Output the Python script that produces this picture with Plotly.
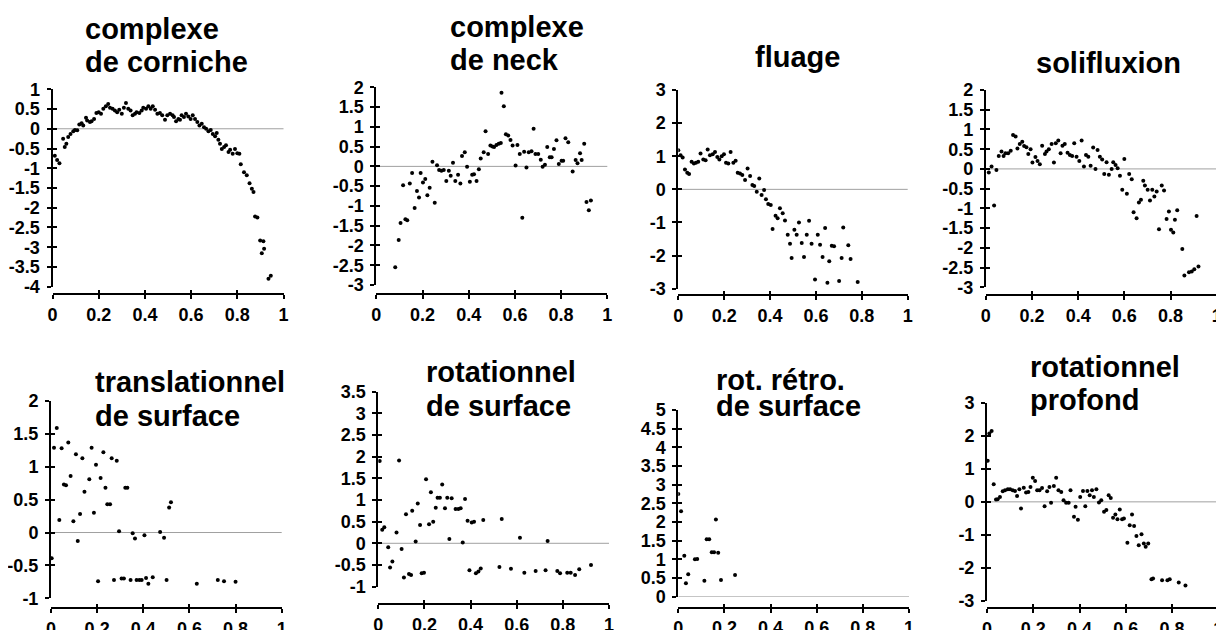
import plotly.graph_objects as go

# --- données ---
x_corniche = [0.01, 0.02, 0.03, 0.046, 0.053, 0.06, 0.068, 0.078, 0.09, 0.097, 0.107, 0.116, 0.126, 0.133,
              0.145, 0.15, 0.162, 0.169, 0.18, 0.19, 0.2, 0.21, 0.22, 0.231, 0.241, 0.249, 0.26, 0.27, 0.28,
              0.289, 0.3, 0.309, 0.318, 0.328, 0.338, 0.347, 0.357, 0.364, 0.376, 0.386, 0.393, 0.405, 0.415,
              0.425, 0.434, 0.444, 0.454, 0.465, 0.475, 0.487, 0.497, 0.509, 0.52, 0.526, 0.535, 0.545, 0.552,
              0.559, 0.569, 0.578, 0.588, 0.598, 0.607, 0.617, 0.627, 0.636, 0.646, 0.656, 0.665, 0.675, 0.685,
              0.694, 0.704, 0.711, 0.718, 0.725, 0.733, 0.743, 0.751, 0.762, 0.769, 0.78, 0.79, 0.8, 0.809,
              0.815, 0.829, 0.841, 0.853, 0.863, 0.87, 0.877, 0.887, 0.899, 0.913, 0.906, 0.916, 0.935, 0.945]
y_corniche = [-0.68, -0.79, -0.87, -0.25, -0.46, -0.38, -0.21, -0.13, -0.06, -0.03, -0.04, 0.11, 0.14, 0.08,
              0.28, 0.21, 0.17, 0.19, 0.25, 0.4, 0.42, 0.38, 0.51, 0.57, 0.63, 0.53, 0.51, 0.46, 0.42,
              0.48, 0.38, 0.53, 0.65, 0.51, 0.46, 0.34, 0.38, 0.42, 0.4, 0.46, 0.53, 0.51, 0.57,
              0.51, 0.57, 0.48, 0.38, 0.4, 0.34, 0.23, 0.34, 0.38, 0.34, 0.3, 0.19, 0.25, 0.23,
              0.34, 0.3, 0.38, 0.31, 0.25, 0.34, 0.25, 0.17, 0.08, 0.13, 0.04, 0.0, -0.06, -0.03,
              -0.13, -0.19, -0.11, -0.28, -0.38, -0.51, -0.46, -0.42, -0.59, -0.53, -0.63, -0.51, -0.62, -0.63,
              -0.9, -1.1, -1.18, -1.38, -1.52, -1.6, -2.22, -2.25, -2.83, -2.85, -3.15, -3.04, -3.8, -3.72]

x_neck = [0.082, 0.097, 0.105, 0.116, 0.126, 0.134, 0.145, 0.155, 0.166, 0.176, 0.185, 0.192, 0.202, 0.212,
          0.221, 0.231, 0.243, 0.253, 0.263, 0.272, 0.282, 0.292, 0.303, 0.314, 0.322, 0.332, 0.342, 0.354,
          0.364, 0.371, 0.383, 0.393, 0.405, 0.415, 0.423, 0.434, 0.444, 0.452, 0.465, 0.473, 0.484, 0.494,
          0.503, 0.51, 0.52, 0.53, 0.539, 0.542, 0.552, 0.561, 0.571, 0.581, 0.59, 0.603, 0.611, 0.621,
          0.632, 0.64, 0.65, 0.66, 0.672, 0.681, 0.689, 0.701, 0.712, 0.72, 0.73, 0.74, 0.751, 0.759,
          0.769, 0.78, 0.79, 0.802, 0.809, 0.819, 0.831, 0.85, 0.863, 0.871, 0.882, 0.889, 0.9, 0.91,
          0.92, 0.929]
y_neck = [-2.55, -1.86, -1.43, -0.48, -1.34, -1.36, -0.43, -0.17, -1.05, -0.62, -0.79, -0.17, -0.41, -0.32,
          -0.73, -0.54, 0.12, -0.92, 0.03, -0.09, -0.11, -0.09, -0.37, -0.11, -0.24, 0.09, -0.37, -0.21,
          -0.43, 0.26, 0.36, -0.01, -0.39, -0.21, -0.2, -0.37, -0.07, 0.2, 0.36, 0.89, 0.31, 0.53,
          0.5, 0.49, 0.54, 0.57, 0.59, 1.86, 1.52, 0.81, 0.78, 0.67, 0.53, 0.02, 0.54, 0.31,
          -1.3, 0.37, -0.03, 0.36, 0.38, 0.95, 0.31, 0.31, 0.17, -0.01, 0.04, 0.49, 0.23, 0.23,
          0.44, 0.66, 0.06, 0.14, 0.14, 0.71, 0.61, -0.13, 0.16, 0.08, 0.33, 0.16, 0.57, -0.9,
          -1.11, -0.86]

x_fluage = [0.0, 0.01, 0.019, 0.029, 0.039, 0.047, 0.058, 0.068, 0.077, 0.087, 0.097, 0.109, 0.119, 0.128,
            0.138, 0.15, 0.16, 0.17, 0.179, 0.189, 0.199, 0.208, 0.218, 0.228, 0.24, 0.25, 0.259, 0.269,
            0.279, 0.291, 0.302, 0.313, 0.323, 0.331, 0.342, 0.353, 0.363, 0.374, 0.382, 0.392, 0.403, 0.411,
            0.424, 0.433, 0.443, 0.455, 0.465, 0.477, 0.487, 0.494, 0.506, 0.516, 0.526, 0.538, 0.548, 0.56,
            0.57, 0.581, 0.596, 0.608, 0.618, 0.629, 0.64, 0.65, 0.658, 0.669, 0.679, 0.701, 0.712, 0.719,
            0.741, 0.751, 0.782]
y_fluage = [1.18, 1.03, 0.96, 0.6, 0.5, 0.46, 0.83, 0.78, 0.8, 0.83, 1.08, 0.9, 0.88, 1.2,
            1.03, 1.06, 1.13, 0.98, 0.9, 1.0, 1.06, 0.8, 0.78, 1.13, 0.8, 0.86, 0.5, 0.48,
            0.43, 0.28, 0.63, 0.4, 0.13, 0.1, -0.07, 0.33, -0.17, -0.02, -0.3, -0.44, -0.47, -1.2,
            -0.8, -0.87, -0.57, -0.72, -0.94, -1.37, -1.64, -2.07, -1.22, -1.37, -1.0, -1.62, -2.04, -1.37,
            -0.95, -1.64, -2.72, -1.37, -1.67, -2.04, -1.17, -2.82, -2.17, -1.7, -1.72, -2.77, -2.07, -1.15,
            -1.69, -2.1, -2.8]

x_soli = [0.013, 0.025, 0.036, 0.046, 0.056, 0.068, 0.077, 0.085, 0.097, 0.108, 0.118, 0.129, 0.137, 0.147,
          0.158, 0.166, 0.176, 0.184, 0.194, 0.202, 0.215, 0.224, 0.234, 0.244, 0.256, 0.263, 0.273, 0.285,
          0.295, 0.303, 0.314, 0.324, 0.332, 0.342, 0.354, 0.364, 0.374, 0.383, 0.393, 0.405, 0.415, 0.425,
          0.434, 0.444, 0.454, 0.465, 0.475, 0.484, 0.494, 0.504, 0.513, 0.523, 0.533, 0.545, 0.552, 0.562,
          0.571, 0.581, 0.591, 0.6, 0.611, 0.621, 0.632, 0.64, 0.653, 0.663, 0.672, 0.682, 0.689, 0.701,
          0.711, 0.721, 0.73, 0.74, 0.75, 0.762, 0.772, 0.783, 0.793, 0.802, 0.812, 0.819, 0.829, 0.851,
          0.86, 0.88, 0.892, 0.903, 0.913, 0.921]
y_soli = [-0.09, 0.06, -0.93, -0.03, 0.33, 0.44, 0.33, 0.4, 0.4, 0.46, 0.86, 0.82, 0.52, 0.63,
          0.69, 0.58, 0.55, 0.38, 0.5, 0.16, 0.3, 0.2, 0.12, 0.59, 0.38, 0.44, 0.5, 0.63,
          0.16, 0.65, 0.72, 0.4, 0.59, 0.63, 0.41, 0.35, 0.33, 0.65, 0.31, 0.2, 0.72, 0.06,
          0.35, 0.31, 0.08, 0.54, 0.0, 0.48, 0.31, 0.24, -0.13, 0.17, -0.15, 0.0, 0.17, 0.1,
          0.02, -0.17, -0.53, 0.25, -0.63, -0.13, -0.26, -1.1, -1.25, -0.85, -0.78, -0.3, -0.42, -0.53,
          -0.8, -0.53, -0.7, -0.57, -1.53, -0.42, -0.55, -1.27, -1.08, -1.54, -1.61, -1.29, -1.05, -2.03,
          -2.7, -2.62, -2.6, -2.54, -1.19, -2.47]

x_trans = [0.003, 0.013, 0.025, 0.036, 0.046, 0.056, 0.065, 0.075, 0.085, 0.097, 0.108, 0.116, 0.126, 0.136,
           0.145, 0.166, 0.176, 0.186, 0.195, 0.204, 0.215, 0.227, 0.236, 0.244, 0.256, 0.263, 0.273, 0.285,
           0.295, 0.306, 0.316, 0.322, 0.331, 0.345, 0.354, 0.364, 0.371, 0.383, 0.393, 0.405, 0.412, 0.422,
           0.441, 0.473, 0.49, 0.501, 0.512, 0.52, 0.632, 0.723, 0.75, 0.8]
y_trans = [-0.39, 1.29, 1.59, 0.19, 1.28, 0.73, 0.72, 1.37, 0.86, 0.17, 1.19, -0.13, 0.28, 1.13,
           0.62, 0.81, 1.29, 0.3, 1.03, -0.74, 0.83, 1.22, 0.68, 0.43, 0.43, 1.13, -0.72, 1.09,
           0.02, -0.7, -0.7, 0.68, 0.68, -0.72, -0.01, -0.09, -0.72, -0.72, -0.72, -0.04, -0.69, -0.78,
           -0.68, 0.01, -0.08, -0.72, 0.38, 0.46, -0.78, -0.72, -0.74, -0.75]

x_rot = [0.006, 0.017, 0.026, 0.043, 0.051, 0.061, 0.079, 0.09, 0.101, 0.111, 0.12, 0.133, 0.142, 0.147,
         0.162, 0.171, 0.181, 0.188, 0.198, 0.207, 0.22, 0.228, 0.238, 0.249, 0.257, 0.267, 0.277, 0.289,
         0.299, 0.308, 0.318, 0.335, 0.347, 0.357, 0.366, 0.376, 0.387, 0.395, 0.405, 0.415, 0.423, 0.434,
         0.444, 0.455, 0.525, 0.535, 0.575, 0.614, 0.633, 0.682, 0.725, 0.734, 0.776, 0.788, 0.819, 0.834,
         0.853, 0.871, 0.922]
y_rot = [1.9, 0.31, 0.37, -0.09, -0.56, -0.42, 0.25, 1.91, -0.13, -0.79, 0.67, -0.71, -0.73, 0.75,
         0.04, 0.92, 0.42, -0.69, -0.68, 1.48, 0.44, 1.18, 0.5, 0.82, 1.05, 1.05, 1.36, 0.81,
         1.05, 0.1, 1.04, 0.79, 0.79, 0.81, 0.02, 1.02, 0.52, -0.62, 0.48, 0.5, -0.69, -0.65,
         -0.58, 0.54, -0.55, 0.56, -0.59, 0.13, -0.68, -0.64, -0.62, 0.05, -0.64, -0.69, -0.68, -0.68,
         -0.73, -0.6, -0.5]

x_retro = [0.0, 0.012, 0.026, 0.033, 0.043, 0.072, 0.082, 0.113, 0.123, 0.134, 0.145, 0.155, 0.163, 0.173,
           0.185, 0.246]
y_retro = [2.75, 2.29, 1.1, 0.36, 0.6, 1.0, 1.01, 0.43, 1.54, 1.54, 1.19, 1.19, 2.07, 1.18,
           0.45, 0.58]

x_profond = [0.003, 0.01, 0.02, 0.029, 0.039, 0.046, 0.056, 0.068, 0.078, 0.09, 0.1, 0.111, 0.121, 0.13,
             0.14, 0.147, 0.159, 0.169, 0.179, 0.188, 0.198, 0.208, 0.217, 0.227, 0.238, 0.249, 0.26, 0.27,
             0.277, 0.289, 0.299, 0.309, 0.321, 0.331, 0.342, 0.353, 0.361, 0.376, 0.383, 0.393, 0.403, 0.415,
             0.425, 0.434, 0.444, 0.454, 0.462, 0.473, 0.484, 0.494, 0.506, 0.516, 0.526, 0.535, 0.545, 0.555,
             0.564, 0.574, 0.584, 0.592, 0.607, 0.617, 0.627, 0.636, 0.646, 0.656, 0.668, 0.678, 0.686, 0.697,
             0.711, 0.718, 0.757, 0.78, 0.79, 0.829, 0.858]
y_profond = [1.24, 2.07, 2.14, 0.53, 0.07, 0.08, 0.15, 0.32, 0.35, 0.38, 0.38, 0.35, 0.33, 0.18,
             0.38, -0.2, 0.43, 0.28, 0.3, 0.45, 0.73, 0.63, 0.35, 0.35, 0.42, -0.13, 0.32, 0.45,
             -0.03, 0.48, 0.73, 0.35, 0.3, 0.05, -0.03, -0.03, 0.35, -0.45, -0.15, -0.54, 0.15, 0.33,
             -0.13, 0.33, 0.2, 0.35, 0.15, 0.38, -0.02, 0.05, -0.3, -0.25, 0.2, 0.12, -0.48, -0.38,
             -0.53, -0.23, -0.53, -0.5, -1.24, -0.71, -0.38, -0.73, -1.03, -1.31, -0.98, -1.26, -1.36, -1.26,
             -2.34, -2.32, -2.37, -2.37, -2.34, -2.44, -2.53]

titres = [["complexe", "de corniche"], ["complexe", "de neck"], ["fluage"], ["solifluxion"],
          ["translationnel", "de surface"], ["rotationnel", "de surface"],
          ["rot. rétro.", "de surface"], ["rotationnel", "profond"]]
series = [(x_corniche, y_corniche), (x_neck, y_neck), (x_fluage, y_fluage), (x_soli, y_soli),
          (x_trans, y_trans), (x_rot, y_rot), (x_retro, y_retro), (x_profond, y_profond)]
y_ranges = [(-4, 1), (-3, 2), (-3, 3), (-3, 2), (-1, 2), (-1, 3.5), (0, 5), (-3, 3)]
y_dticks = [0.5, 0.5, 1, 0.5, 0.5, 0.5, 0.5, 1]
x_ticks = [0, 0.2, 0.4, 0.6, 0.8, 1]

# géométrie en pixels de la page (la page HTML décale la figure de 8 px)
OFF = 8
W, H = 1224 - OFF, 630 - OFF
# x gauche, x droite, y haut, y bas, y de l'axe x
cadres = [(52.5, 283.5, 89.3, 286.7, 294.3), (376.3, 607.3, 87.3, 285.0, 294.3),
          (678.3, 907.7, 90.0, 288.7, 295.0), (985.8, 1216.7, 90.0, 287.3, 295.0),
          (51.0, 281.7, 401.0, 598.3, 608.3), (378.3, 609.0, 391.7, 586.6, 604.3),
          (678.3, 909.0, 410.0, 596.7, 607.7), (987.0, 1218.3, 402.7, 601.0, 608.3)]
# position des titres : x gauche, lignes de base
pos_titres = [(83, [39.7, 73]), (448, [38, 71.3]), (753, [68]), (1034, [73.7]),
              (93, [393, 427]), (424, [383, 417]), (714, [390.7, 417.3]), (1028, [378, 411.3])]


def px(v):
    return (v - OFF) / W


def py(v):
    return 1 - (v - OFF) / H


def lab(v):
    return f"{v:g}"


police = "Liberation Sans, Arial, sans-serif"
fig = go.Figure()
layout = {}
annotations = []
shapes = []

for i in range(8):
    n = i + 1
    m = i + 9
    xl, xr, yt, yb, xpos = cadres[i]
    ymin, ymax = y_ranges[i]
    d = y_dticks[i]
    yt_vals = []
    v = ymin
    while v <= ymax + 1e-9:
        yt_vals.append(round(v, 2))
        v += d
    xs, ys = series[i]
    fig.add_trace(go.Scatter(x=xs, y=ys, mode="markers", xaxis=f"x{n}", yaxis=f"y{n}",
                             marker=dict(color="black", size=4), showlegend=False, hoverinfo="x+y"))
    fig.add_trace(go.Scatter(x=[], y=[], xaxis=f"x{m}", yaxis=f"y{m}", showlegend=False))

    common = dict(showgrid=False, zeroline=False, tickwidth=2, tickcolor="black", automargin=False)
    layout[f"xaxis{n}"] = dict(domain=[px(xl), px(xr)], range=[0, 1], anchor="free", position=py(xpos),
                               showline=True, linecolor="black", linewidth=2,
                               tickvals=x_ticks, ticktext=[lab(t) for t in x_ticks],
                               ticks="outside", ticklen=4, ticklabelstandoff=0,
                               tickfont=dict(family=police, size=18, color="black", weight="bold"),
                               **common)
    layout[f"yaxis{n}"] = dict(domain=[py(yb), py(yt)], range=[ymin, ymax], anchor=f"x{n}",
                               showline=True, linecolor="black", linewidth=2,
                               tickvals=yt_vals, ticktext=[lab(t) for t in yt_vals],
                               ticks="outside", ticklen=4, ticklabelstandoff=3,
                               tickfont=dict(family=police, size=18, color="black", weight="bold"),
                               **common)
    # ticks intérieurs (effet croix)
    layout[f"xaxis{m}"] = dict(overlaying=f"x{n}", range=[0, 1], anchor="free", position=py(xpos),
                               tickvals=x_ticks, ticks="inside", ticklen=4, showticklabels=False,
                               showline=False, **common)
    layout[f"yaxis{m}"] = dict(overlaying=f"y{n}", range=[ymin, ymax], anchor=f"x{m}",
                               tickvals=yt_vals, ticks="inside", ticklen=4, showticklabels=False,
                               showline=False, **common)

    shapes.append(dict(type="line", xref=f"x{n}", yref=f"y{n}", x0=0, x1=1.02, y0=0, y1=0,
                       line=dict(color="#a0a0a0", width=1), layer="below"))

    tx, bases = pos_titres[i]
    for txt, b in zip(titres[i], bases):
        annotations.append(dict(text=txt, x=px(tx), y=py(b + 7), xref="paper", yref="paper",
                                xanchor="left", yanchor="bottom", showarrow=False,
                                font=dict(family=police, size=29, color="black", weight="bold")))

fig.update_layout(width=W, height=H, margin=dict(l=0, r=0, t=0, b=0),
                  plot_bgcolor="white", paper_bgcolor="white",
                  annotations=annotations, shapes=shapes, **layout)

fig.write_html("out.html")
